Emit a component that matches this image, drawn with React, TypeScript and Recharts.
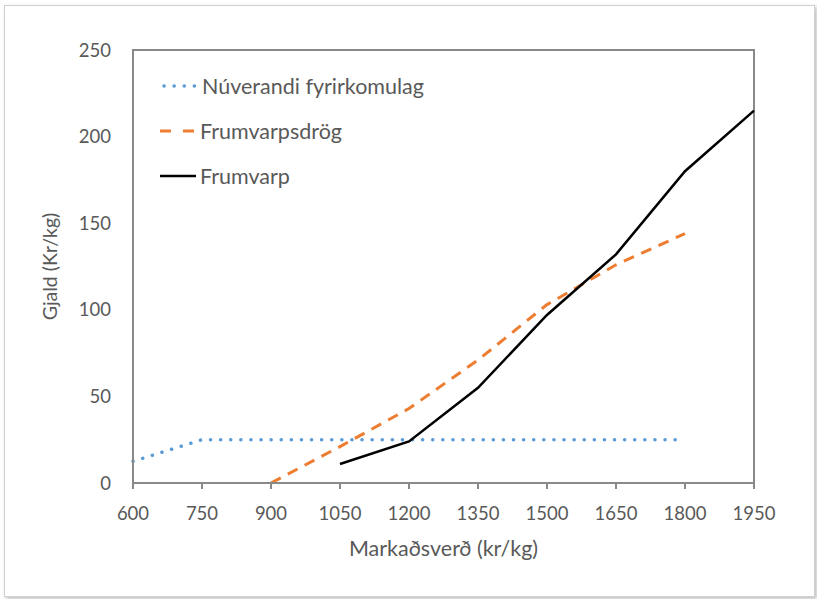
import { LineChart, Line, XAxis, YAxis, Legend, ReferenceArea } from 'recharts'

const prices = [600, 750, 900, 1050, 1200, 1350, 1500, 1650, 1800, 1950]
const xTicks = [600, 750, 900, 1050, 1200, 1350, 1500, 1650, 1800, 1950]
const yTicks = [0, 50, 100, 150, 200, 250]

// values per price, null = no point
const nuverandi = [12.5, 25, 25, 25, 25, 25, 25, 25, 25, null]
const drog = [null, null, 0, 21, 43, 71, 103, 126, 144, null]
const frumvarp = [null, null, null, 11, 24, 55, 97, 132, 180, 215]

const toSeries = (vals: (number | null)[]) =>
  prices
    .map((p, i) => ({ price: p, value: vals[i] }))
    .filter((d) => d.value !== null)

const series = [
  { name: 'Núverandi fyrirkomulag', data: toSeries(nuverandi), color: '#5B9BD5', width: 3.5, dash: '0.1 10', cap: 'round' as const },
  { name: 'Frumvarpsdrög', data: toSeries(drog), color: '#ED7D31', width: 3, dash: '11 8', cap: 'butt' as const },
  { name: 'Frumvarp', data: toSeries(frumvarp), color: '#000000', width: 2.5, dash: undefined, cap: 'butt' as const },
]

const FONT = 'Lato, "Open Sans", sans-serif'
const TEXT = '#595959'
const TICK_SIZE = 18.5
const LABEL_SIZE = 21.5

function LegendBox() {
  return (
    <div style={{ fontFamily: FONT, fontSize: LABEL_SIZE, color: TEXT }}>
      {series.map((s, i) => (
        <div key={s.name} style={{ display: 'flex', alignItems: 'center', height: 45 }}>
          <svg width={i === 0 ? 40 : 38} height={10} style={{ marginRight: 2 }}>
            <line
              x1={i === 0 ? 4 : 0}
              y1={5}
              x2={36}
              y2={5}
              stroke={s.color}
              strokeWidth={s.width}
              strokeDasharray={i === 0 ? '0.1 10' : i === 1 ? '11 12' : undefined}
              strokeLinecap={s.cap}
            />
          </svg>
          <span>{s.name}</span>
        </div>
      ))}
    </div>
  )
}

export default function App() {
  return (
    <div
      style={{
        position: 'absolute',
        left: 0,
        top: 0,
        width: 817,
        height: 599,
        background: '#fff',
      }}
    >
      <div
        style={{
          position: 'absolute',
          left: 4,
          top: 5,
          width: 809,
          height: 590,
          border: '1px solid #d0d0d0',
          boxShadow: '2px 2px 4px rgba(0,0,0,0.25)',
          background: '#fff',
        }}
      />
      <div style={{ position: 'absolute', left: 0, top: 0 }}>
        <LineChart
          width={817}
          height={599}
          margin={{ top: 50, right: 63, bottom: 0, left: 73 }}
        >
          <XAxis
            dataKey="price"
            type="number"
            domain={[600, 1950]}
            ticks={xTicks}
            allowDuplicatedCategory={false}
            axisLine={{ stroke: '#898989', strokeWidth: 2 }}
            tickLine={{ stroke: '#898989', strokeWidth: 2 }}
            tickSize={6}
            height={116}
            tick={{ fill: TEXT, fontSize: TICK_SIZE, fontFamily: FONT, dy: 16 }}
            label={{
              value: 'Markaðsverð (kr/kg)',
              position: 'insideTop',
              offset: 58,
              fill: TEXT,
              fontSize: LABEL_SIZE,
              fontFamily: FONT,
            }}
          />
          <YAxis
            type="number"
            domain={[0, 250]}
            ticks={yTicks}
            width={60}
            axisLine={{ stroke: '#898989', strokeWidth: 2 }}
            tickLine={false}
            tick={{ fill: TEXT, fontSize: TICK_SIZE, fontFamily: FONT, dx: -14 }}
            label={{
              value: 'Gjald (Kr/kg)',
              angle: -90,
              position: 'insideLeft',
              dx: -28,
              dy: 0,
              fill: TEXT,
              fontSize: 19.5,
              fontFamily: FONT,
              style: { textAnchor: 'middle' },
            }}
          />
          <ReferenceArea
            x1={600}
            x2={1950}
            y1={0}
            y2={250}
            fill="none"
            stroke="#898989"
            strokeWidth={2}
            ifOverflow="visible"
          />
          <Legend
            layout="vertical"
            align="center"
            verticalAlign="middle"
            content={() => <LegendBox />}
            wrapperStyle={{ left: 160, top: 63, width: 320 }}
          />
          {series.map((s) => (
            <Line
              key={s.name}
              data={s.data}
              dataKey="value"
              name={s.name}
              type="linear"
              stroke={s.color}
              strokeWidth={s.width}
              strokeDasharray={s.dash}
              strokeLinecap={s.cap}
              dot={false}
              activeDot={false}
              isAnimationActive={false}
            />
          ))}
        </LineChart>
      </div>
    </div>
  )
}
